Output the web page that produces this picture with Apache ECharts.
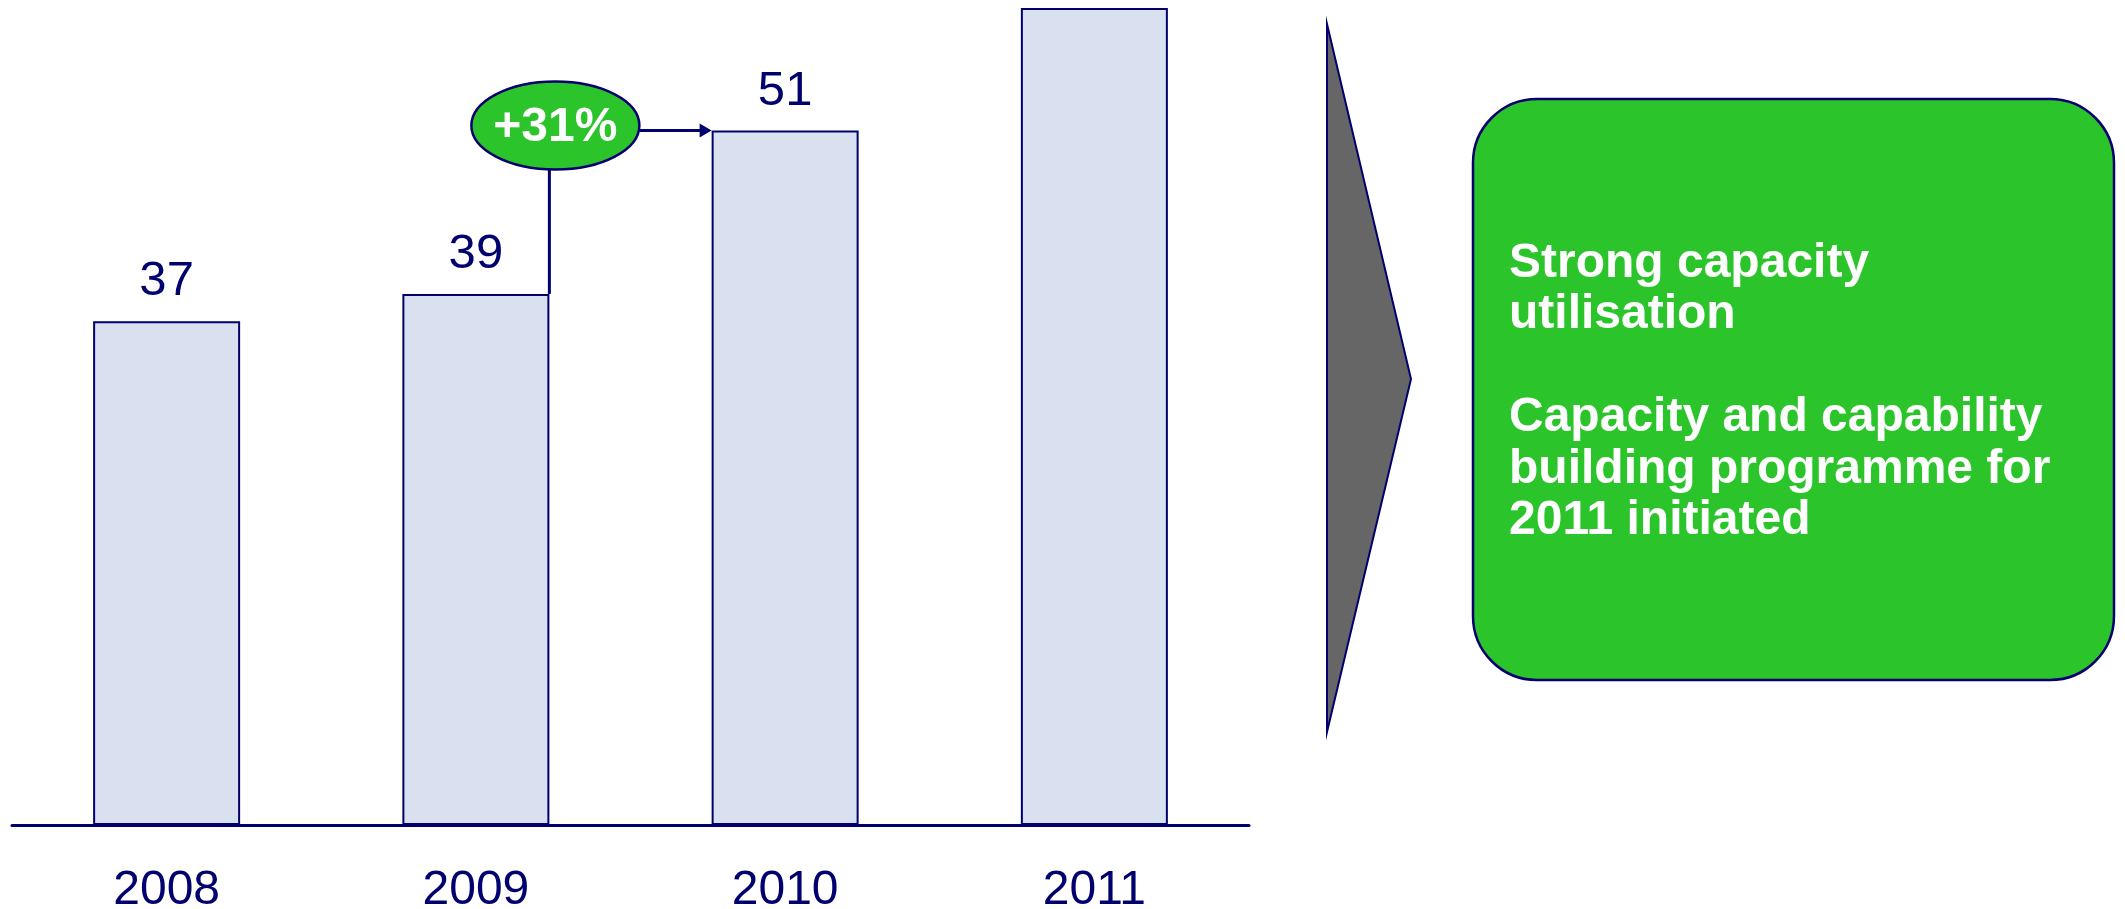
<!DOCTYPE html>
<html>
<head>
<meta charset="utf-8">
<script src="https://cdn.jsdelivr.net/npm/echarts@6/dist/echarts.min.js"></script>
<style>
  html, body { margin: 0; padding: 0; background: #fff; }
  #chart { width: 2125px; height: 909px; }
</style>
</head>
<body>
<div id="chart"></div>
<script>
// chart values
var years = ['2008', '2009', '2010', '2011'];
var values = [37, 39, 51, 60];
var showValue = [true, true, true, false];
var growthFrom = '2009';
var growthTo = '2010';
var notes = [
    'Strong capacity',
    'utilisation',
    '',
    'Capacity and capability',
    'building programme for',
    '2011 initiated'
];

var NAVY = '#00006e';
var FONT = '"Liberation Sans", Arial, sans-serif';
var BAR_W = 147;

var chart = echarts.init(document.getElementById('chart'));

chart.setOption({
    animation: false,
    grid: { left: 12, right: 876, top: 8, bottom: 84, outerBoundsMode: 'none', containLabel: false },
    xAxis: {
        type: 'category',
        data: years,
        axisLine: { lineStyle: { color: NAVY, width: 3 } },
        axisTick: { show: false },
        axisLabel: { color: NAVY, fontSize: 48, fontFamily: FONT, margin: 42 }
    },
    yAxis: {
        type: 'value',
        min: 0,
        max: 60,
        show: false,
        splitLine: { show: false }
    },
    series: [{
        type: 'bar',
        barWidth: BAR_W,
        data: values.map(function (v, i) {
            return { value: v, label: { show: showValue[i] } };
        }),
        itemStyle: { color: '#d9e0ef', borderColor: NAVY, borderWidth: 2 },
        label: {
            position: 'top',
            distance: 15,
            color: NAVY,
            fontSize: 49,
            fontFamily: FONT
        }
    }]
});

// growth bubble + connectors, placed from the data
var i0 = years.indexOf(growthFrom), i1 = years.indexOf(growthTo);
var p0 = chart.convertToPixel({ gridIndex: 0 }, [growthFrom, values[i0]]);
var p1 = chart.convertToPixel({ gridIndex: 0 }, [growthTo, values[i1]]);
var half = BAR_W / 2;
var lx = p0[0] + half;
var cx = lx + 6, cy = p1[1] - 5, rx = 84, ry = 44;
var ax = p1[0] - half;
var pct = Math.round((values[i1] / values[i0] - 1) * 100);

chart.setOption({
    graphic: [
        {
            type: 'polyline',
            shape: { points: [[lx, p0[1]], [lx, cy + ry]] },
            style: { stroke: NAVY, lineWidth: 3, fill: null }
        },
        {
            type: 'polyline',
            shape: { points: [[cx + rx, p1[1]], [ax - 10, p1[1]]] },
            style: { stroke: NAVY, lineWidth: 3, fill: null }
        },
        {
            type: 'polygon',
            shape: { points: [[ax - 12, p1[1] - 7], [ax, p1[1]], [ax - 12, p1[1] + 7]] },
            style: { fill: NAVY }
        },
        {
            type: 'ellipse',
            shape: { cx: cx, cy: cy, rx: rx, ry: ry },
            style: { fill: '#2bc52b', stroke: NAVY, lineWidth: 2.5 }
        },
        {
            type: 'text',
            x: cx,
            y: cy + 2,
            style: {
                text: '+' + pct + '%',
                fill: '#fff',
                fontSize: 48,
                fontWeight: 'bold',
                fontFamily: FONT,
                align: 'center',
                verticalAlign: 'middle'
            }
        },
        // arrow chevron
        {
            type: 'polygon',
            shape: { points: [[1327, 24], [1411, 379], [1327, 732]] },
            style: { fill: '#666666', stroke: NAVY, lineWidth: 2 }
        },
        // comment box
        {
            type: 'rect',
            shape: { x: 1473, y: 99, width: 641, height: 581, r: 64 },
            style: { fill: '#2bc52b', stroke: NAVY, lineWidth: 2.5 }
        },
        {
            type: 'text',
            x: 1509,
            y: 238,
            style: {
                text: notes.join('\n'),
                fill: '#fff',
                fontSize: 48,
                fontWeight: 'bold',
                fontFamily: FONT,
                lineHeight: 51.5,
                align: 'left',
                verticalAlign: 'top'
            }
        }
    ]
});
</script>
</body>
</html>
